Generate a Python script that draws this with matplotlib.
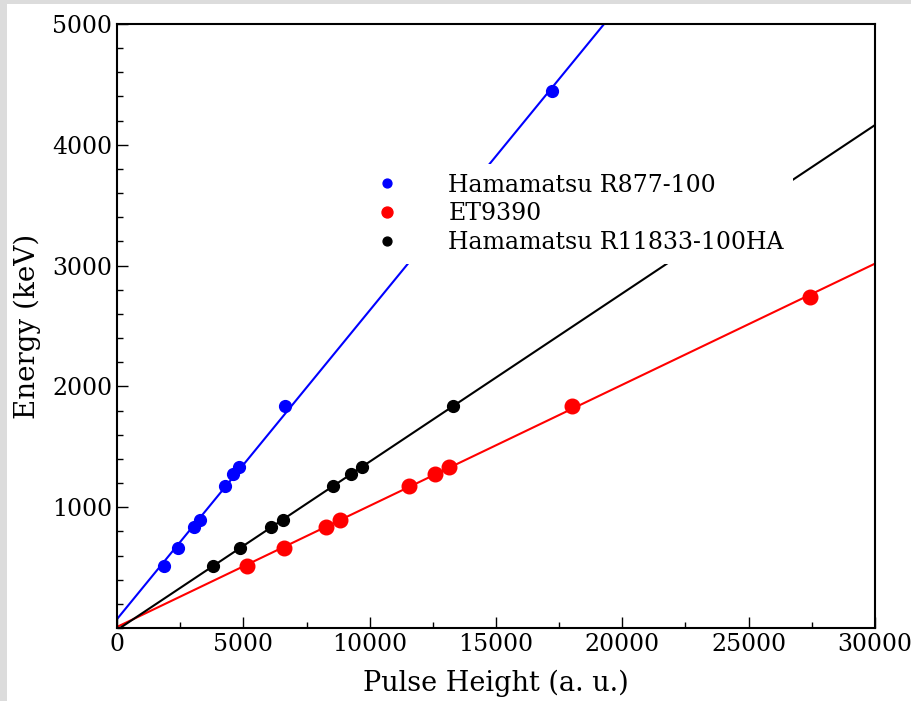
import numpy as np
import matplotlib
matplotlib.use("Agg")
import matplotlib.pyplot as plt
from matplotlib.patches import Rectangle
from matplotlib.ticker import MultipleLocator

# Energias de las lineas gamma (keV)
energia = [511, 662, 835, 898, 1173, 1275, 1333, 1836]

# Altura de pulso para cada fotomultiplicador
ph_r877 = [1860, 2414, 3047, 3285, 4274, 4590, 4828, 6648, 17214]
e_r877 = energia + [4445]
ph_et9390 = [5144, 6609, 8271, 8825, 11555, 12584, 13138, 18005, 27424]
e_et9390 = energia + [2740]
ph_r11833 = [3799, 4867, 6094, 6569, 8548, 9260, 9695, 13296]
e_r11833 = energia

etiquetas = ["Hamamatsu R877-100", "ET9390", "Hamamatsu R11833-100HA"]

plt.rcParams["font.family"] = "DejaVu Serif"
plt.rcParams["mathtext.fontset"] = "dejavuserif"

fig = plt.figure(figsize=(9.12, 7.01), dpi=100)
fig.patch.set_facecolor("#dcdcdc")
fig.patches.append(Rectangle((7 / 912, 0), 1, 1 - 4 / 701, transform=fig.transFigure,
                             facecolor="white", edgecolor="none", zorder=-1))
ax = fig.add_axes([117 / 912, 1 - 628 / 701, 758 / 912, 604 / 701])

xx = np.array([0, 30000])
series = [
    (ph_r877, e_r877, "b", 8.5),
    (ph_et9390, e_et9390, "r", 10.5),
    (ph_r11833, e_r11833, "k", 8.5),
]
handles = []
for (x, y, c, ms), lab in zip(series, etiquetas):
    p = np.polyfit(x, y, 1)
    ax.plot(xx, np.polyval(p, xx), color=c, lw=1.5, zorder=1)
    h, = ax.plot(x, y, "o", color=c, ms=ms, mec=c, zorder=2, label=lab)
    handles.append(h)

ax.set_xlim(0, 30000)
ax.set_ylim(0, 5000)
ax.set_yticks([1000, 2000, 3000, 4000, 5000])
ax.xaxis.set_minor_locator(MultipleLocator(2500))
ax.yaxis.set_minor_locator(MultipleLocator(200))
ax.tick_params(which="both", direction="in", top=False, right=False, labelsize=17)
ax.tick_params(which="major", length=8, width=1)
ax.tick_params(which="minor", length=4, width=1)
for s in ax.spines.values():
    s.set_linewidth(1.5)

ax.set_xlabel("Pulse Height (a. u.)", fontsize=19.5, labelpad=10)
ax.set_ylabel("Energy (keV)", fontsize=20, labelpad=8)

leg = ax.legend(handles=handles, loc="upper right", bbox_to_anchor=(0.892, 0.768),
                fontsize=17, numpoints=1, markerscale=0.75, handletextpad=1.6,
                labelspacing=0.25, frameon=True, fancybox=False, framealpha=1,
                borderaxespad=0)
leg.get_frame().set_edgecolor("none")
leg.set_zorder(5)

fig.savefig("out.png", dpi=100, facecolor=fig.get_facecolor())
